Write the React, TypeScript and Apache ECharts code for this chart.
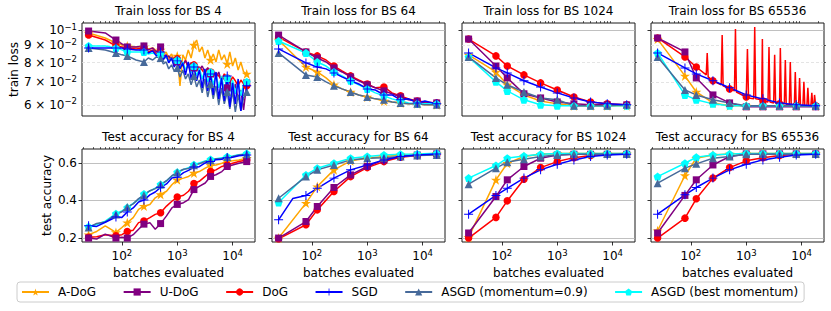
import React, { useEffect, useRef } from "react";
import * as echarts from "echarts";

const FONT = "DejaVu Sans";
const NAMES = ["A-DoG", "U-DoG", "DoG", "SGD", "ASGD (momentum=0.9)", "ASGD (best momentum)"];
const COLORS = ["#FFA500", "#800080", "#FF0000", "#0000FF", "#476A9A", "#00FFFF"];
const MARKER_X = [25, 78, 125, 250, 500, 1000, 2000, 4000, 8000, 18000];

const X_MIN = 19;
const X_MAX = 25400;
const X_MAJOR = [100, 1000, 10000];
const X_MINOR = [20, 30, 40, 50, 60, 70, 80, 90, 200, 300, 400, 500, 600, 700, 800, 900, 2000, 3000, 4000, 5000, 6000, 7000, 8000, 9000, 20000];
const LOSS_MIN = 0.0556;
const LOSS_MAX = 0.1049;
const LOSS_LABELS = [0.06, 0.07, 0.08, 0.09, 0.1];
const LOSS_MINOR = [0.06, 0.07, 0.08, 0.09];
const ACC_MIN = 0.179;
const ACC_MAX = 0.674;
const ACC_TICKS = [0.2, 0.4, 0.6];

// ---------- Train loss, BS 4 ----------
const TRAIN4_X = [25, 50, 78, 100, 125, 180, 250, 300, 360, 420, 500, 560, 630, 700, 790, 880, 1000, 1120, 1260, 1410, 1580, 1780, 2000, 2240, 2510, 2820, 3160, 3550, 4000, 4470, 5010, 5620, 6310, 7080, 8000, 8910, 10000, 11200, 12600, 14100, 15800, 18000];
const TRAIN4_ADOG = [0.0980, 0.0947, 0.0915, 0.0903, 0.0897, 0.0891, 0.0891, 0.0879, 0.0885, 0.0867, 0.0873, 0.0844, 0.0861, 0.0826, 0.0849, 0.0815, 0.0838, 0.0683, 0.0844, 0.0815, 0.0873, 0.0826, 0.0903, 0.0934, 0.0861, 0.0891, 0.0826, 0.0873, 0.0815, 0.0849, 0.0804, 0.0873, 0.0815, 0.0844, 0.0793, 0.0861, 0.0782, 0.0826, 0.0761, 0.0804, 0.0751, 0.0741];
const TRAIN4_UDOG = [0.0993, 0.0980, 0.0934, 0.0909, 0.0891, 0.0891, 0.0897, 0.0873, 0.0885, 0.0861, 0.0891, 0.0844, 0.0826, 0.0838, 0.0815, 0.0826, 0.0804, 0.0815, 0.0793, 0.0810, 0.0782, 0.0799, 0.0772, 0.0793, 0.0761, 0.0782, 0.0751, 0.0772, 0.0741, 0.0761, 0.0721, 0.0751, 0.0702, 0.0731, 0.0674, 0.0711, 0.0642, 0.0692, 0.0621, 0.0664, 0.0580, 0.0697];
const TRAIN4_DOG = [0.0966, 0.0934, 0.0897, 0.0891, 0.0885, 0.0879, 0.0885, 0.0861, 0.0873, 0.0849, 0.0855, 0.0826, 0.0844, 0.0810, 0.0832, 0.0799, 0.0821, 0.0804, 0.0782, 0.0815, 0.0772, 0.0799, 0.0788, 0.0756, 0.0777, 0.0761, 0.0741, 0.0772, 0.0751, 0.0726, 0.0746, 0.0731, 0.0711, 0.0741, 0.0721, 0.0697, 0.0726, 0.0707, 0.0683, 0.0711, 0.0692, 0.0683];
const TRAIN4_SGD = [0.0885, 0.0885, 0.0885, 0.0885, 0.0879, 0.0873, 0.0873, 0.0855, 0.0867, 0.0838, 0.0861, 0.0815, 0.0844, 0.0799, 0.0826, 0.0777, 0.0810, 0.0767, 0.0799, 0.0736, 0.0804, 0.0716, 0.0777, 0.0707, 0.0761, 0.0674, 0.0767, 0.0660, 0.0741, 0.0642, 0.0751, 0.0625, 0.0721, 0.0616, 0.0731, 0.0592, 0.0697, 0.0604, 0.0716, 0.0576, 0.0674, 0.0683];
const TRAIN4_ASGD = [0.0885, 0.0873, 0.0855, 0.0844, 0.0838, 0.0815, 0.0804, 0.0826, 0.0815, 0.0832, 0.0826, 0.0793, 0.0804, 0.0767, 0.0788, 0.0756, 0.0772, 0.0726, 0.0761, 0.0716, 0.0741, 0.0688, 0.0731, 0.0678, 0.0711, 0.0651, 0.0716, 0.0633, 0.0692, 0.0625, 0.0683, 0.0600, 0.0674, 0.0604, 0.0655, 0.0584, 0.0660, 0.0572, 0.0642, 0.0576, 0.0629, 0.0655];
const TRAIN4_ASGDB = [0.0897, 0.0897, 0.0885, 0.0873, 0.0861, 0.0861, 0.0861, 0.0849, 0.0855, 0.0844, 0.0849, 0.0826, 0.0838, 0.0804, 0.0826, 0.0793, 0.0815, 0.0777, 0.0804, 0.0761, 0.0793, 0.0746, 0.0782, 0.0731, 0.0772, 0.0716, 0.0761, 0.0702, 0.0751, 0.0688, 0.0741, 0.0674, 0.0731, 0.0664, 0.0721, 0.0655, 0.0711, 0.0647, 0.0702, 0.0638, 0.0692, 0.0702];

// ---------- Train loss, BS 64 ----------
const TRAIN64_X = [25, 78, 125, 180, 250, 350, 500, 700, 1000, 1400, 2000, 2800, 4000, 5600, 8000, 11000, 18000];
const TRAIN64_ADOG = [0.0934, 0.0777, 0.0751, 0.0721, 0.0688, 0.0669, 0.0655, 0.0642, 0.0633, 0.0625, 0.0616, 0.0612, 0.0608, 0.0604, 0.0604, 0.0600, 0.0600];
const TRAIN64_UDOG = [0.0966, 0.0861, 0.0826, 0.0804, 0.0772, 0.0751, 0.0726, 0.0707, 0.0688, 0.0674, 0.0660, 0.0647, 0.0633, 0.0621, 0.0616, 0.0608, 0.0608];
const TRAIN64_DOG = [0.0953, 0.0861, 0.0838, 0.0815, 0.0782, 0.0756, 0.0731, 0.0711, 0.0692, 0.0674, 0.0678, 0.0651, 0.0638, 0.0625, 0.0616, 0.0612, 0.0608];
const TRAIN64_SGD = [0.0879, 0.0799, 0.0777, 0.0767, 0.0746, 0.0726, 0.0707, 0.0692, 0.0669, 0.0664, 0.0642, 0.0642, 0.0621, 0.0625, 0.0608, 0.0616, 0.0604];
const TRAIN64_ASGD = [0.0855, 0.0736, 0.0726, 0.0702, 0.0683, 0.0669, 0.0655, 0.0642, 0.0633, 0.0625, 0.0621, 0.0612, 0.0608, 0.0604, 0.0604, 0.0600, 0.0600];
const TRAIN64_ASGDB = [0.0928, 0.0855, 0.0804, 0.0782, 0.0751, 0.0731, 0.0707, 0.0688, 0.0669, 0.0651, 0.0638, 0.0625, 0.0616, 0.0608, 0.0604, 0.0604, 0.0604];

// ---------- Train loss, BS 1024 (at MARKER_X) ----------
const TRAIN1024_ADOG = [0.0844, 0.0751, 0.0688, 0.0642, 0.0616, 0.0604, 0.0596, 0.0596, 0.0596, 0.0596];
const TRAIN1024_UDOG = [0.0940, 0.0782, 0.0721, 0.0647, 0.0629, 0.0612, 0.0604, 0.0600, 0.0600, 0.0600];
const TRAIN1024_DOG = [0.0940, 0.0838, 0.0782, 0.0736, 0.0697, 0.0664, 0.0633, 0.0612, 0.0604, 0.0600];
const TRAIN1024_SGD = [0.0855, 0.0772, 0.0746, 0.0707, 0.0678, 0.0651, 0.0629, 0.0612, 0.0604, 0.0600];
const TRAIN1024_ASGD = [0.0832, 0.0721, 0.0688, 0.0655, 0.0629, 0.0621, 0.0596, 0.0596, 0.0596, 0.0600];
const TRAIN1024_ASGDB = [0.0832, 0.0702, 0.0660, 0.0621, 0.0600, 0.0596, 0.0596, 0.0596, 0.0596, 0.0596];

// ---------- Train loss, BS 65536 ----------
const TRAIN65536_ADOG = [0.0940, 0.0731, 0.0655, 0.0608, 0.0596, 0.0596, 0.0596, 0.0596, 0.0596, 0.0596];
const TRAIN65536_UDOG = [0.0947, 0.0861, 0.0721, 0.0642, 0.0608, 0.0592, 0.0592, 0.0592, 0.0592, 0.0592];
const TRAIN65536_DOG_X = [25, 78, 125, 189, 197, 205, 250, 352, 367, 382, 500, 612, 638, 664, 1000, 1050, 1100, 1365, 1422, 1480, 1900, 1956, 2000, 2470, 2576, 2680, 3130, 3260, 3390, 4000, 4130, 4300, 4880, 5080, 5280, 6000, 6250, 6500, 7400, 7690, 8000, 8830, 9200, 9570, 10560, 11000, 11440, 12460, 12980, 13500, 14700, 15310, 15920, 16700, 17140, 18000];
const TRAIN65536_DOG = [0.0947, 0.0832, 0.0777, 0.0736, 0.0855, 0.0726, 0.0707, 0.0688, 0.0966, 0.0683, 0.0669, 0.0660, 0.1007, 0.0655, 0.0633, 0.0879, 0.0629, 0.0625, 0.1021, 0.0625, 0.0621, 0.0940, 0.0616, 0.0612, 0.0891, 0.0612, 0.0608, 0.0844, 0.0608, 0.0604, 0.0885, 0.0604, 0.0604, 0.0815, 0.0600, 0.0600, 0.0804, 0.0600, 0.0600, 0.0751, 0.0596, 0.0596, 0.0721, 0.0596, 0.0596, 0.0702, 0.0596, 0.0596, 0.0674, 0.0596, 0.0596, 0.0651, 0.0596, 0.0596, 0.0642, 0.0596];
const TRAIN65536_SGD = [0.0855, 0.0772, 0.0741, 0.0707, 0.0674, 0.0642, 0.0625, 0.0608, 0.0600, 0.0596];
const TRAIN65536_ASGD = [0.0832, 0.0664, 0.0642, 0.0621, 0.0608, 0.0596, 0.0596, 0.0596, 0.0596, 0.0596];
const TRAIN65536_ASGDB = [0.0855, 0.0642, 0.0621, 0.0604, 0.0596, 0.0596, 0.0596, 0.0596, 0.0596, 0.0596];

// ---------- Test accuracy, BS 4 ----------
const TEST4_X = [25, 35, 50, 78, 100, 125, 160, 200, 250, 320, 400, 500, 640, 800, 1000, 1300, 1600, 2000, 2500, 3200, 4000, 5000, 6400, 8000, 10000, 13000, 18000];
const TEST4_ADOG = [0.218, 0.235, 0.265, 0.23, 0.256, 0.282, 0.309, 0.353, 0.37, 0.379, 0.414, 0.432, 0.449, 0.484, 0.51, 0.519, 0.528, 0.546, 0.554, 0.572, 0.586, 0.589, 0.598, 0.607, 0.611, 0.616, 0.625];
const TEST4_UDOG = [0.2, 0.195, 0.221, 0.2, 0.204, 0.2, 0.218, 0.247, 0.274, 0.282, 0.247, 0.277, 0.318, 0.361, 0.379, 0.388, 0.405, 0.458, 0.475, 0.493, 0.528, 0.537, 0.554, 0.581, 0.589, 0.598, 0.607];
const TEST4_DOG = [0.204, 0.207, 0.218, 0.212, 0.218, 0.235, 0.242, 0.282, 0.291, 0.309, 0.326, 0.335, 0.37, 0.396, 0.418, 0.428, 0.449, 0.49, 0.502, 0.528, 0.554, 0.563, 0.581, 0.589, 0.598, 0.607, 0.616];
const TEST4_SGD = [0.265, 0.262, 0.284, 0.312, 0.31, 0.339, 0.36, 0.392, 0.402, 0.43, 0.445, 0.47, 0.488, 0.52, 0.523, 0.548, 0.56, 0.578, 0.58, 0.6, 0.608, 0.617, 0.619, 0.628, 0.63, 0.638, 0.642];
const TEST4_ASGD = [0.256, 0.278, 0.285, 0.326, 0.34, 0.365, 0.382, 0.41, 0.428, 0.452, 0.463, 0.485, 0.505, 0.532, 0.55, 0.566, 0.57, 0.588, 0.595, 0.608, 0.614, 0.622, 0.624, 0.632, 0.634, 0.642, 0.646];
const TEST4_ASGDB = [0.26, 0.272, 0.29, 0.33, 0.345, 0.362, 0.385, 0.405, 0.435, 0.45, 0.465, 0.485, 0.505, 0.53, 0.55, 0.565, 0.575, 0.59, 0.6, 0.61, 0.618, 0.622, 0.628, 0.633, 0.637, 0.643, 0.65];

// ---------- Test accuracy, BS 64 ----------
const TEST64_ADOG = [0.2, 0.386, 0.474, 0.563, 0.611, 0.625, 0.634, 0.642, 0.646, 0.65];
const TEST64_UDOG = [0.2, 0.288, 0.368, 0.469, 0.536, 0.581, 0.616, 0.634, 0.642, 0.648];
const TEST64_DOG = [0.196, 0.271, 0.35, 0.448, 0.527, 0.575, 0.607, 0.63, 0.639, 0.646];
const TEST64_SGD_X = [25, 45, 78, 125, 250, 500, 1000, 2000, 4000, 8000, 18000];
const TEST64_SGD = [0.297, 0.41, 0.427, 0.465, 0.519, 0.563, 0.589, 0.616, 0.634, 0.642, 0.648];
const TEST64_ASGD = [0.412, 0.527, 0.563, 0.589, 0.616, 0.625, 0.628, 0.634, 0.639, 0.642];
const TEST64_ASGDB = [0.389, 0.536, 0.572, 0.598, 0.625, 0.634, 0.642, 0.646, 0.648, 0.651];

// ---------- Test accuracy, BS 1024 ----------
const TEST1024_ADOG = [0.204, 0.51, 0.598, 0.634, 0.646, 0.65, 0.65, 0.65, 0.65, 0.65];
const TEST1024_UDOG = [0.227, 0.421, 0.51, 0.581, 0.625, 0.642, 0.646, 0.646, 0.646, 0.646];
const TEST1024_DOG = [0.2, 0.31, 0.398, 0.513, 0.575, 0.607, 0.628, 0.639, 0.646, 0.648];
const TEST1024_SGD = [0.327, 0.427, 0.465, 0.519, 0.563, 0.593, 0.616, 0.634, 0.642, 0.646];
const TEST1024_ASGD = [0.487, 0.572, 0.604, 0.619, 0.634, 0.642, 0.646, 0.648, 0.648, 0.648];
const TEST1024_ASGDB = [0.519, 0.586, 0.625, 0.637, 0.646, 0.65, 0.65, 0.65, 0.65, 0.65];

// ---------- Test accuracy, BS 65536 ----------
const TEST65536_ADOG = [0.239, 0.533, 0.625, 0.642, 0.648, 0.65, 0.65, 0.65, 0.65, 0.65];
const TEST65536_UDOG = [0.227, 0.427, 0.51, 0.589, 0.634, 0.648, 0.648, 0.648, 0.648, 0.648];
const TEST65536_DOG = [0.2, 0.306, 0.409, 0.519, 0.575, 0.611, 0.628, 0.639, 0.646, 0.648];
const TEST65536_SGD = [0.327, 0.43, 0.469, 0.519, 0.563, 0.593, 0.616, 0.63, 0.642, 0.646];
const TEST65536_ASGD = [0.492, 0.572, 0.595, 0.625, 0.634, 0.646, 0.648, 0.648, 0.648, 0.648];
const TEST65536_ASGDB = [0.527, 0.598, 0.63, 0.642, 0.648, 0.65, 0.65, 0.65, 0.65, 0.65];

type Panel = { title: string; row: number; x: number[]; ys: number[][]; xOverride?: Record<number, number[]> };

const PANELS: Panel[] = [
  { title: "Train loss for BS 4", row: 0, x: TRAIN4_X, ys: [TRAIN4_ADOG, TRAIN4_UDOG, TRAIN4_DOG, TRAIN4_SGD, TRAIN4_ASGD, TRAIN4_ASGDB] },
  { title: "Train loss for BS 64", row: 0, x: TRAIN64_X, ys: [TRAIN64_ADOG, TRAIN64_UDOG, TRAIN64_DOG, TRAIN64_SGD, TRAIN64_ASGD, TRAIN64_ASGDB] },
  { title: "Train loss for BS 1024", row: 0, x: MARKER_X, ys: [TRAIN1024_ADOG, TRAIN1024_UDOG, TRAIN1024_DOG, TRAIN1024_SGD, TRAIN1024_ASGD, TRAIN1024_ASGDB] },
  { title: "Train loss for BS 65536", row: 0, x: MARKER_X, ys: [TRAIN65536_ADOG, TRAIN65536_UDOG, TRAIN65536_DOG, TRAIN65536_SGD, TRAIN65536_ASGD, TRAIN65536_ASGDB], xOverride: { 2: TRAIN65536_DOG_X } },
  { title: "Test accuracy for BS 4", row: 1, x: TEST4_X, ys: [TEST4_ADOG, TEST4_UDOG, TEST4_DOG, TEST4_SGD, TEST4_ASGD, TEST4_ASGDB] },
  { title: "Test accuracy for BS 64", row: 1, x: MARKER_X, ys: [TEST64_ADOG, TEST64_UDOG, TEST64_DOG, TEST64_SGD, TEST64_ASGD, TEST64_ASGDB], xOverride: { 3: TEST64_SGD_X } },
  { title: "Test accuracy for BS 1024", row: 1, x: MARKER_X, ys: [TEST1024_ADOG, TEST1024_UDOG, TEST1024_DOG, TEST1024_SGD, TEST1024_ASGD, TEST1024_ASGDB] },
  { title: "Test accuracy for BS 65536", row: 1, x: MARKER_X, ys: [TEST65536_ADOG, TEST65536_UDOG, TEST65536_DOG, TEST65536_SGD, TEST65536_ASGD, TEST65536_ASGDB] },
];

const STAR = "path://M0,-1L0.2245,-0.309L0.9511,-0.309L0.3633,0.118L0.5878,0.809L0,0.382L-0.5878,0.809L-0.3633,0.118L-0.9511,-0.309L-0.2245,-0.309Z";
const PLUS = "path://M-0.11,-1L0.11,-1L0.11,-0.11L1,-0.11L1,0.11L0.11,0.11L0.11,1L-0.11,1L-0.11,0.11L-1,0.11L-1,-0.11L-0.11,-0.11Z";
const PENTA = "path://M0,-1L0.951,-0.309L0.588,0.809L-0.588,0.809L-0.951,-0.309Z";
const SYMBOLS = [STAR, "rect", "circle", PLUS, "triangle", PENTA];
const SIZES = [10, 7, 7.5, 9, 8, 8];
const DRAW_ORDER = [0, 2, 1, 5, 4, 3];

const GRID_LEFTS = [82, 272, 462, 651];
const GRID_W = 173;
const GRID_TOPS = [23, 149];
const GRID_H = 93;

const RICH = {
  b: { fontFamily: FONT, fontSize: 12, color: "#000", lineHeight: 16 },
  s: { fontFamily: FONT, fontSize: 8.5, color: "#000", lineHeight: 10, verticalAlign: "top" },
};

function xFmt(v: number) {
  const e = Math.round(Math.log10(v));
  return `{b|10}{s|${e}}`;
}
function lossFmt(v: number) {
  if (Math.abs(v - 0.1) < 1e-6) return "{b|10}{s|−1}";
  return `{b|${Math.round(v * 100)} × 10}{s|−2}`;
}

function buildOption() {
  const grid: any[] = [];
  const xAxis: any[] = [];
  const yAxis: any[] = [];
  const title: any[] = [];
  const series: any[] = [];

  PANELS.forEach((p, pi) => {
    const col = pi % 4;
    const left = GRID_LEFTS[col];
    const top = GRID_TOPS[p.row];
    grid.push({ left, top, width: GRID_W, height: GRID_H, show: true, borderColor: "#1a1a1a", borderWidth: 1, backgroundColor: "#fff" });
    title.push({
      text: p.title, left: left + GRID_W / 2, top: p.row === 0 ? 5 : 131, textAlign: "center", padding: 0,
      textStyle: { fontFamily: FONT, fontSize: 12, fontWeight: "normal", color: "#000" },
    });
    const bottomRow = p.row === 1;
    xAxis.push({
      type: "log", logBase: 10, gridIndex: pi, min: X_MIN, max: X_MAX,
      axisLine: { show: false }, splitLine: { show: false },
      axisTick: { show: true, customValues: X_MAJOR, length: 3.5, lineStyle: { color: "#000", width: 0.8 } },
      axisLabel: { show: bottomRow, customValues: X_MAJOR, formatter: xFmt, rich: RICH, margin: 6 },
      name: bottomRow ? "batches evaluated" : "", nameLocation: "middle", nameGap: 25,
      nameTextStyle: { fontFamily: FONT, fontSize: 12, color: "#000" },
    });
    xAxis.push({
      type: "log", logBase: 10, gridIndex: pi, min: X_MIN, max: X_MAX,
      axisLine: { show: false }, splitLine: { show: false },
      axisTick: { show: true, customValues: X_MINOR, length: 2, lineStyle: { color: "#000", width: 0.6 } },
      axisLabel: { show: false },
    });
    if (p.row === 0) {
      yAxis.push({
        type: "log", logBase: 10, gridIndex: pi, min: LOSS_MIN, max: LOSS_MAX,
        axisLine: { show: false },
        splitLine: { show: true, lineStyle: { color: "#b0b0b0", width: 0.8, type: "solid" } },
        axisTick: { show: true, customValues: [0.1], length: 3.5, lineStyle: { color: "#000", width: 0.8 } },
        axisLabel: { show: col === 0, customValues: LOSS_LABELS, formatter: lossFmt, rich: RICH, margin: 5 },
        name: col === 0 ? "train loss" : "", nameLocation: "middle", nameGap: 62,
        nameTextStyle: { fontFamily: FONT, fontSize: 12, color: "#000" },
      });
      yAxis.push({
        type: "log", logBase: 10, gridIndex: pi, min: LOSS_MIN, max: LOSS_MAX,
        axisLine: { show: false },
        splitLine: { show: true, lineStyle: { color: "#dddddd", width: 0.8, type: [3, 2] } },
        axisTick: { show: true, customValues: LOSS_MINOR, length: 2, lineStyle: { color: "#000", width: 0.6 } },
        axisLabel: { show: false },
      });
    } else {
      yAxis.push({
        type: "value", gridIndex: pi, min: ACC_MIN, max: ACC_MAX,
        axisLine: { show: false },
        splitLine: { show: true, lineStyle: { color: "#b0b0b0", width: 0.8 } },
        axisTick: { show: true, customValues: ACC_TICKS, length: 3.5, lineStyle: { color: "#000", width: 0.8 } },
        axisLabel: { show: col === 0, customValues: ACC_TICKS, formatter: (v: number) => v.toFixed(1), fontFamily: FONT, fontSize: 12, color: "#000", margin: 5 },
        name: col === 0 ? "test accuracy" : "", nameLocation: "middle", nameGap: 29,
        nameTextStyle: { fontFamily: FONT, fontSize: 12, color: "#000" },
      });
      yAxis.push({
        type: "value", gridIndex: pi, min: ACC_MIN, max: ACC_MAX, show: false,
      });
    }

    DRAW_ORDER.forEach((si) => {
      const xs = (p.xOverride && p.xOverride[si]) || p.x;
      const ys = p.ys[si];
      const data = xs.map((x, i) =>
        MARKER_X.includes(x) ? { value: [x, ys[i]] } : { value: [x, ys[i]], symbol: "none" }
      );
      series.push({
        type: "line", name: NAMES[si], xAxisIndex: pi * 2, yAxisIndex: pi * 2, data,
        symbol: SYMBOLS[si], symbolSize: SIZES[si], showSymbol: true, clip: true,
        lineStyle: { color: COLORS[si], width: 1.5 }, itemStyle: { color: COLORS[si] },
        emphasis: { disabled: true },
      });
    });
  });

  return {
    animation: false,
    backgroundColor: "#fff",
    textStyle: { fontFamily: FONT },
    grid, xAxis, yAxis, title, series,
    legend: {
      data: NAMES, left: 17, top: 282, orient: "horizontal",
      itemWidth: 27, itemHeight: 9, itemGap: 26.5,
      padding: [4, 6, 4, 4], borderColor: "#cccccc", borderWidth: 1, borderRadius: 3, backgroundColor: "#fff",
      textStyle: { fontFamily: FONT, fontSize: 12, color: "#000", padding: [0, 0, 0, 4] },
      selectedMode: false,
    },
  };
}

export default function App() {
  const ref = useRef<HTMLDivElement>(null);
  useEffect(() => {
    if (!ref.current) return;
    const chart = echarts.init(ref.current, undefined, { renderer: "svg" });
    chart.setOption(buildOption() as any);
    return () => chart.dispose();
  }, []);
  return <div ref={ref} style={{ position: "fixed", left: 0, top: 0, width: 831, height: 311 }} />;
}
